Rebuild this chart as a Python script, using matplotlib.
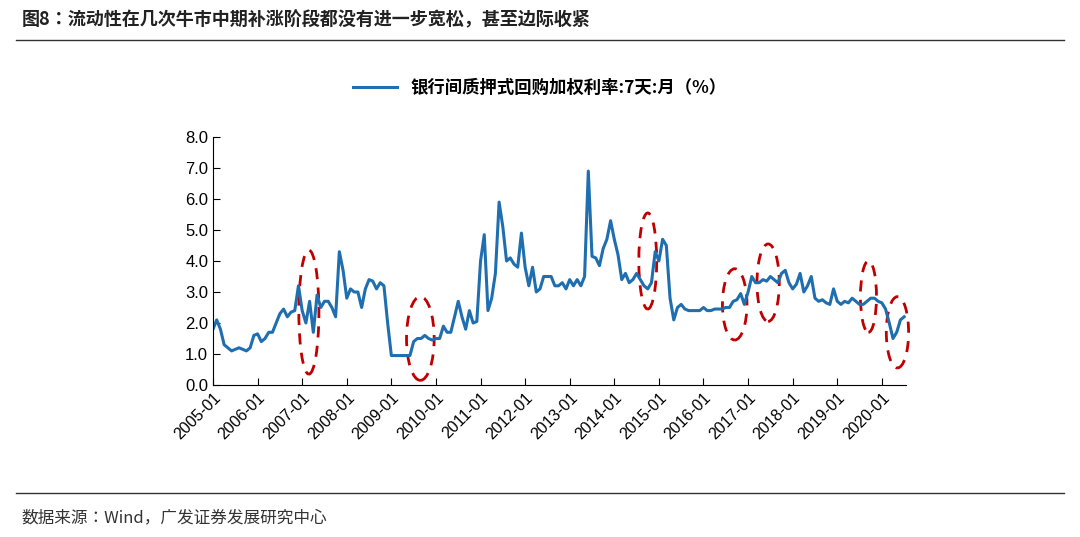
import numpy as np
import matplotlib; matplotlib.use("Agg")
import matplotlib.pyplot as plt
from matplotlib.patches import Ellipse

CJK = ["Noto Sans CJK SC", "Noto Sans CJK JP", "Noto Sans CJK TC", "Noto Sans CJK KR"]
plt.rcParams["font.family"] = ["Liberation Sans"] + CJK

START_YEAR = 2005
RATE = [
    1.8, 2.1, 1.8, 1.3, 1.2, 1.1, 1.15, 1.2, 1.15, 1.1, 1.2, 1.6,
    1.65, 1.4, 1.5, 1.7, 1.7, 2.0, 2.3, 2.45, 2.2, 2.35, 2.4, 3.2,
    2.4, 2.0, 2.7, 1.7, 2.9, 2.5, 2.7, 2.7, 2.5, 2.2, 4.3, 3.7,
    2.8, 3.1, 3.0, 3.0, 2.5, 3.1, 3.4, 3.35, 3.1, 3.3, 3.2, 2.0,
    0.95, 0.95, 0.95, 0.95, 0.95, 0.95, 1.4, 1.5, 1.5, 1.6, 1.5, 1.45,
    1.5, 1.5, 1.9, 1.7, 1.7, 2.2, 2.7, 2.2, 1.8, 2.4, 2.0, 2.05,
    4.0, 4.85, 2.4, 2.8, 3.6, 5.9, 5.1, 4.0, 4.1, 3.9, 3.8, 4.9,
    3.8, 3.2, 3.8, 3.0, 3.1, 3.5, 3.5, 3.5, 3.2, 3.2, 3.3, 3.1,
    3.4, 3.2, 3.4, 3.2, 3.5, 6.9, 4.15, 4.1, 3.85, 4.4, 4.7, 5.3,
    4.7, 4.2, 3.4, 3.6, 3.3, 3.4, 3.6, 3.4, 3.2, 3.1, 3.3, 4.3,
    4.0, 4.7, 4.5, 2.8, 2.1, 2.5, 2.6, 2.45, 2.4, 2.4, 2.4, 2.4,
    2.5, 2.4, 2.4, 2.45, 2.45, 2.45, 2.5, 2.5, 2.7, 2.75, 2.95, 2.6,
    3.0, 3.5, 3.3, 3.3, 3.4, 3.35, 3.5, 3.4, 3.3, 3.6, 3.7, 3.3,
    3.1, 3.25, 3.6, 3.0, 3.2, 3.5, 2.8, 2.7, 2.75, 2.65, 2.6, 3.1,
    2.7, 2.6, 2.7, 2.65, 2.8, 2.7, 2.6, 2.6, 2.7, 2.8, 2.8, 2.7,
    2.65, 2.45, 2.0, 1.5, 1.7, 2.1, 2.2,
]
TICK_YEARS = list(range(2005, 2021))
# highlighted windows: (centre year, centre value, width years, height)
MARKS = [(2007.15, 2.35, 0.45, 4.0), (2009.65, 1.5, 0.62, 2.7), (2014.75, 4.0, 0.4, 3.1),
         (2016.7, 2.6, 0.55, 2.3), (2017.45, 3.3, 0.5, 2.5), (2019.7, 2.85, 0.36, 2.3),
         (2020.35, 1.7, 0.5, 2.3)]

x = START_YEAR + np.arange(len(RATE)) / 12
fig = plt.figure(figsize=(10.8, 5.37), dpi=100)
ax = fig.add_axes([213/1080, 1-385/537, 693/1080, 248/537])
ax.plot(x, RATE, color="#1f6fb0", lw=2.2, label="银行间质押式回购加权利率:7天:月（%）")
for cx, cy, w, h in MARKS:
    ax.add_patch(Ellipse((cx, cy), w, h, fill=False, ec="#c00000", ls=(0, (4, 3)), lw=2, clip_on=False))
ax.set_ylim(0, 8)
ax.set_xlim(2005, 2020 + 6.5/12)
ax.set_yticks(np.arange(0, 8.1, 1))
ax.set_yticklabels([f"{v:.1f}" for v in np.arange(0, 8.1, 1)], fontsize=12)
ax.set_xticks(TICK_YEARS)
ax.set_xticklabels([f"{y}-01" for y in TICK_YEARS], rotation=45, ha="right", rotation_mode="anchor", fontsize=11.5)
for s in ["top", "right"]:
    ax.spines[s].set_visible(False)
ax.tick_params(direction="in", length=5)
ax.legend(loc="center", bbox_to_anchor=(0.5, (537-88)/537), bbox_transform=fig.transFigure,
          frameon=False, prop={"family": CJK, "weight": "bold", "size": 12.5}, handlelength=2.5)

fig.text(0.02, 1-20/537, "图8：流动性在几次牛市中期补涨阶段都没有进一步宽松，甚至边际收紧", fontsize=13,
         fontweight="bold", family=CJK, va="center", color="#222")
fig.add_artist(plt.Line2D([0.015, 0.985], [1-40/537]*2, color="#333", lw=1))
fig.add_artist(plt.Line2D([0.015, 0.985], [1-493/537]*2, color="#333", lw=1))
fig.text(0.02, 1-518/537, "数据来源：Wind，广发证券发展研究中心", fontsize=12, family=CJK,
         va="center", color="#333")
fig.savefig("out.png", dpi=100)
